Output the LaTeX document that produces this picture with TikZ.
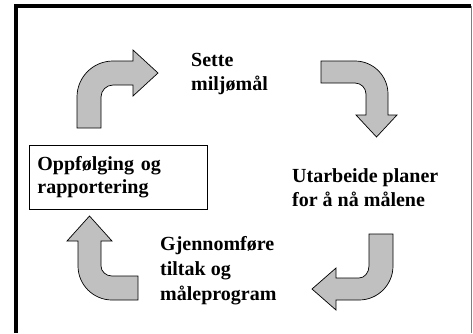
\documentclass[tikz,border=0pt]{standalone}
\usepackage{fontspec}
\setmainfont{Liberation Serif}
\tikzset{
  txt/.style={anchor=base west, inner sep=0pt, align=left,
    font=\bfseries\fontsize{20}{23.5}\selectfont},
  bentarrow/.style={draw=black, line width=0.7pt, fill=arrowgray, line join=miter}
}
\definecolor{arrowgray}{HTML}{C0C0C0}
\begin{document}
\begin{tikzpicture}[x=1pt, y=-1pt]
	\useasboundingbox (0,0) rectangle (473,333);
	% frame
	\draw[line width=4pt] (16,333) -- (16,6) -- (471,6);
	\draw[gray, line width=1pt] (471.5,6) -- (471.5,333);
	% Place nodes (anchored at the last baseline)
	\node [txt] (sette) at (191,90) {Sette\\miljømål};
	\node [txt] (utarb) at (292,206) {Utarbeide planer\\for å nå målene};
	\node [txt, font=\bfseries\fontsize{20}{25}\selectfont] (gjen) at (160,300) {Gjennomføre\\tiltak og\\måleprogram};
	\node [rectangle, draw, line width=0.8pt, anchor=north west, minimum width=178pt, minimum height=64pt,
	  text width=162pt, inner xsep=8pt, align=left,
	  font=\bfseries\fontsize{20}{23}\selectfont] (oppf) at (29,145) {Oppfølging og\\rapportering};
	% Arrows
	\draw[bentarrow] (77,128) -- (77,97) .. controls (77,77.1) and (93.1,61) .. (113,61) -- (133,61)
	  -- (133,50) -- (158,73) -- (133,96) -- (133,85) -- (113,85)
	  .. controls (106.4,85) and (101,90.4) .. (101,97) -- (101,128) -- cycle;
	\draw[bentarrow] (321,61) -- (355,61) .. controls (373.2,61) and (388,75.8) .. (388,94) -- (388,115)
	  -- (397,115) -- (376.5,137) -- (356,115) -- (366,115) -- (366,94)
	  .. controls (366,88) and (361,83) .. (355,83) -- (321,83) -- cycle;
	\draw[bentarrow] (369,234) -- (393,234) -- (393,266) .. controls (393,284.8) and (377.8,300) .. (359,300) -- (336,300)
	  -- (336,310) -- (312,289) -- (336,268) -- (336,278) -- (359,278)
	  .. controls (364.5,278) and (369,272.6) .. (369,266) -- cycle;
	\draw[bentarrow] (138,300) -- (112,300) .. controls (93.3,300) and (78,284.7) .. (78,266) -- (78,241)
	  -- (67,241) -- (89.5,216) -- (112,241) -- (101,241) -- (101,266)
	  .. controls (101,271.5) and (106,276) .. (112,276) -- (138,276) -- cycle;
\end{tikzpicture}
\end{document}
